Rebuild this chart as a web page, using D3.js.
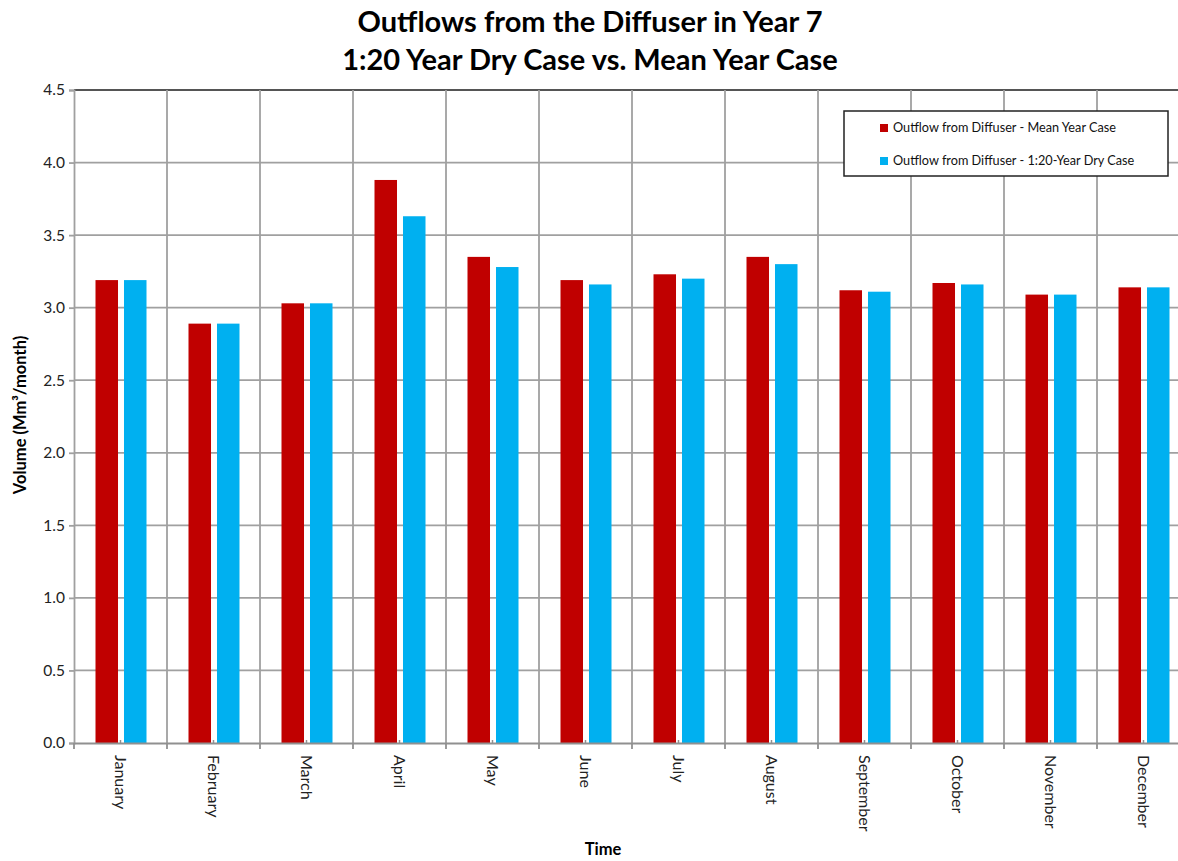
<!DOCTYPE html>
<html><head><meta charset="utf-8">
<script src="https://d3js.org/d3.v7.min.js"></script>
<style>body{margin:0;background:#fff;overflow:hidden}svg{display:block}</style>
</head><body>
<script>
const months = ["January","February","March","April","May","June","July","August","September","October","November","December"];
const meanYear = [3.19,2.89,3.03,3.88,3.35,3.19,3.23,3.35,3.12,3.17,3.09,3.14];
const dryYear  = [3.19,2.89,3.03,3.63,3.28,3.16,3.20,3.30,3.11,3.16,3.09,3.14];
const seriesNames = ["Outflow from Diffuser - Mean Year Case","Outflow from Diffuser - 1:20-Year Dry Case"];
const seriesColors = ["#c00000","#00b0f0"];
const yTicks = [0,0.5,1.0,1.5,2.0,2.5,3.0,3.5,4.0,4.5];
const titleLines = ["Outflows from the Diffuser in Year 7","1:20 Year Dry Case vs. Mean Year Case"];

const W=1178,H=861;
const m={left:74,top:90,right:1190,bottom:743};
const font="Lato, 'Open Sans', sans-serif";
const svg=d3.select("body").append("svg").attr("width",W).attr("height",H);

const x=d3.scaleBand().domain(months).range([m.left,m.right]).padding(0);
const inner=d3.scaleBand().domain([0,1]).range([21.5,72.5]).paddingInner(0.21);
const y=d3.scaleLinear().domain([0,4.5]).range([m.bottom,m.top]);

// gridlines
const g=svg.append("g");
g.selectAll("line.h").data(yTicks.slice(1)).join("line")
 .attr("x1",m.left).attr("x2",m.right).attr("y1",d=>y(d)).attr("y2",d=>y(d))
 .attr("stroke",d=>d===4.5?"#555":"#a0a0a0").attr("stroke-width",d=>d===4.5?2:1.8);
g.selectAll("line.v").data(months.slice(1)).join("line")
 .attr("x1",d=>x(d)).attr("x2",d=>x(d)).attr("y1",m.top).attr("y2",m.bottom)
 .attr("stroke","#a0a0a0").attr("stroke-width",1.8);

// bars
const data=[meanYear,dryYear];
data.forEach((vals,si)=>{
  svg.append("g").selectAll("rect").data(months).join("rect")
   .attr("x",(d)=>x(d)+inner(si)).attr("width",inner.bandwidth())
   .attr("y",(d,i)=>y(vals[i])).attr("height",(d,i)=>y(0)-y(vals[i]))
   .attr("fill",seriesColors[si]);
});

// y axis
const ya=svg.append("g").attr("transform",`translate(${m.left},0)`)
 .call(d3.axisLeft(y).tickValues(yTicks).tickFormat(d3.format(".1f")).tickSize(5).tickPadding(4));
ya.select(".domain").attr("stroke","#a0a0a0").attr("stroke-width",1.8);
ya.selectAll(".tick line").attr("stroke","#a0a0a0").attr("stroke-width",1.8);
ya.selectAll("text").attr("font-family",font).attr("font-size",15.5).attr("fill","#222");

// x axis
const xa=svg.append("g").attr("transform",`translate(0,${m.bottom})`)
 .call(d3.axisBottom(x).tickSize(0).tickPadding(0));
xa.select(".domain").attr("stroke","#909090").attr("stroke-width",2.2);
xa.selectAll(".tick text").attr("font-family",font).attr("font-size",16).attr("fill","#222")
 .attr("transform","translate(0,12) rotate(90)").attr("text-anchor","start").attr("dy","0.35em").attr("y",0).attr("x",0);
// boundary ticks
svg.append("g").selectAll("line").data(months.concat(["end"])).join("line")
 .attr("x1",d=>d==="end"?m.right:x(d)).attr("x2",d=>d==="end"?m.right:x(d))
 .attr("y1",m.bottom).attr("y2",m.bottom+6).attr("stroke","#909090").attr("stroke-width",1.8);
// minor center ticks
svg.append("g").selectAll("line").data(months).join("line")
 .attr("x1",d=>x(d)+x.bandwidth()/2).attr("x2",d=>x(d)+x.bandwidth()/2)
 .attr("y1",m.bottom).attr("y2",m.bottom-3).attr("stroke","#909090").attr("stroke-width",1.5);

// titles
svg.append("g").selectAll("text").data(titleLines).join("text")
 .attr("x",590).attr("y",(d,i)=>32+i*38).attr("text-anchor","middle")
 .attr("font-family",font).attr("font-weight","bold").attr("font-size",29).attr("fill","#000").text(d=>d);

svg.append("text").attr("transform",`translate(20,415) rotate(-90)`)
 .attr("text-anchor","middle").attr("dy","0.35em").attr("font-family",font).attr("font-weight","bold").attr("font-size",16.5)
 .text("Volume (Mm³/month)");
svg.append("text").attr("x",603).attr("y",855).attr("text-anchor","middle")
 .attr("font-family",font).attr("font-weight","bold").attr("font-size",16.5).text("Time");

// legend
const lg=svg.append("g");
lg.append("rect").attr("x",844).attr("y",111).attr("width",324).attr("height",65)
 .attr("fill","#fff").attr("stroke","#222").attr("stroke-width",1.5);
seriesNames.forEach((n,i)=>{
  const yy=128+i*33;
  lg.append("rect").attr("x",880).attr("y",yy-4).attr("width",8).attr("height",8).attr("fill",seriesColors[i]);
  lg.append("text").attr("x",893).attr("y",yy).attr("dy","0.35em").attr("font-family",font)
   .attr("font-size",12.7).attr("fill","#111").text(n);
});
</script>
</body></html>
